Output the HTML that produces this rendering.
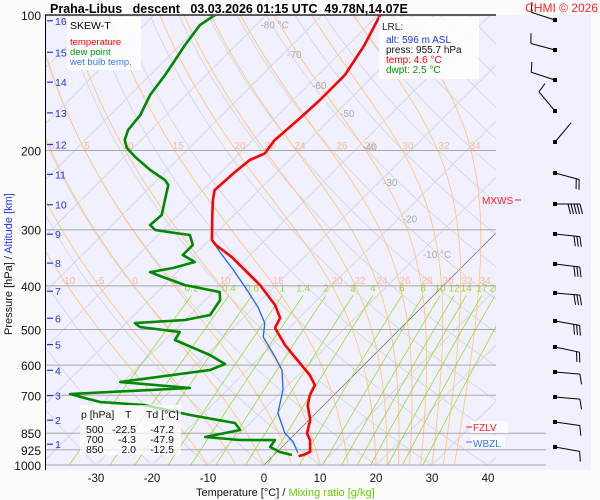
<!DOCTYPE html>
<html><head><meta charset="utf-8"><style>
body{margin:0;background:#fcfcfc;}
svg{display:block;font-family:"Liberation Sans",sans-serif;}
</style></head><body>
<svg id="c" width="600" height="500" viewBox="0 0 600 500">
<rect x="45" y="15" width="546" height="455" fill="#f0f0fe"/>
<defs><clipPath id="clip"><rect x="45" y="15" width="451" height="450"/></clipPath></defs>
<g id="grid" clip-path="url(#clip)"></g>
<g id="hl"></g>
<g id="series" clip-path="url(#clip)"></g>
<g id="barbs"></g>
<g id="axes"></g>
<text x="50" y="13" font-size="12.5" font-weight="bold" fill="#000" xml:space="preserve">Praha-Libus   descent   03.03.2026 01:15 UTC  49.78N,14.07E</text>
<text x="598" y="12" font-size="12" fill="#ff2020" text-anchor="end">CHMI © 2026</text>
<g>
<rect x="67" y="17" width="74" height="53" fill="#fff" opacity="0.85"/>
<text x="70" y="29" font-size="10.5" fill="#000">SKEW-T</text>
<text x="70" y="45" font-size="9.5" fill="#ff0000">temperature</text>
<text x="70" y="55" font-size="9.5" fill="#009900">dew point</text>
<text x="70" y="65" font-size="9.5" fill="#3377ff">wet bulb temp.</text>
</g>
<g>
<rect x="379" y="17" width="100" height="62" fill="#fff" opacity="0.85"/>
<text x="382" y="30" font-size="10" fill="#222">LRL:</text>
<text x="386" y="43" font-size="10" fill="#2233ee">alt: 596 m ASL</text>
<text x="386" y="53" font-size="10" fill="#111">press: 955.7 hPa</text>
<text x="386" y="63" font-size="10" fill="#ff0000">temp: 4.6 °C</text>
<text x="386" y="73" font-size="10" fill="#009900">dwpt: 2.5 °C</text>
</g>
<g font-size="10.5" fill="#111">
<rect x="80" y="405" width="101" height="50" fill="#fff" opacity="0.7"/>
<text x="81" y="418">p [hPa]</text><text x="125" y="418">T</text><text x="146" y="418">Td [°C]</text>
<text x="86" y="433">500</text><text x="136" y="433" text-anchor="end">-22.5</text><text x="174" y="433" text-anchor="end">-47.2</text>
<text x="86" y="443">700</text><text x="136" y="443" text-anchor="end">-4.3</text><text x="174" y="443" text-anchor="end">-47.9</text>
<text x="86" y="453">850</text><text x="136" y="453" text-anchor="end">2.0</text><text x="174" y="453" text-anchor="end">-12.5</text>
</g>
<g font-size="10">
<text x="482" y="204" fill="#ff2020">MXWS</text><line x1="515" y1="200" x2="521" y2="200" stroke="#ff2020"/>
<rect x="471" y="421" width="37" height="12" fill="#fff" opacity="0.8"/>
<line x1="466" y1="427" x2="472" y2="427" stroke="#ff2020"/><text x="473" y="431" fill="#ff2020">FZLV</text>
<rect x="471" y="436" width="34" height="12" fill="#fff" opacity="0.8"/>
<line x1="466" y1="442" x2="472" y2="442" stroke="#3377ff"/><text x="473" y="447" fill="#3377ff">WBZL</text>
</g>
<text x="196" y="496" font-size="11" fill="#111">Temperature [°C]  /  <tspan fill="#66cc00">Mixing ratio [g/kg]</tspan></text>
<text transform="translate(12,335) rotate(-90)" font-size="11" fill="#111">Pressure [hPa]  /  <tspan fill="#2233ee">Altitude [km]</tspan></text>
</svg>
<script>
// ---- data ----
const tempP=[100,117,136,154.5,169,190,203,210,223,245,258,278,316,324,345,398,441,471,496,541,631,664,699,736,794,850,880,935,950,955.7];
const tempT=[-59.6,-57,-55.2,-55.2,-55.5,-56.1,-55.5,-57,-57.5,-57.9,-56.4,-53.9,-49.5,-48,-42.9,-32.9,-26.6,-23.4,-22.5,-17.7,-7.9,-5.2,-4.3,-2.9,0.2,2.0,3.75,5.9,5.2,4.6];
const dewP=[100,105.2,116.6,125.9,136,150.6,166.8,180.1,189.6,197.4,206.8,221,232.6,238.6,257.8,278.3,292.9,300.4,305.1,308.2,324.4,341.5,353.9,365,372.6,380.2,398.1,412.7,430,464.2,476.3,483.7,493.6,506.4,527.6,569.5,596.4,615,654,674.5,695.5,710,724.4,736,774.3,806.6,836,866.7,880,880.5,912,935.6,950];
const dewT=[-89.1,-90,-89.1,-88.2,-87.3,-86.4,-84.6,-84.1,-82.9,-81.1,-78,-73,-68.6,-67.1,-65,-62.9,-63.2,-61.4,-57.3,-54.3,-52,-52,-48.6,-51.4,-54.8,-52.3,-46.3,-38.8,-37.3,-36.4,-40,-48.4,-46.8,-38.8,-38.2,-29.3,-25,-26.6,-40.5,-27,-47.3,-43.9,-40.5,-32,-22.1,-12.7,-10.5,-15.5,-8.75,-2.5,-2.1,0.5,3.2];
const wbP=[100,117,136,154.5,169,190,203,210,223,245,258,278,316,336.3,365,402,445.6,483.7,519.5,575.4,615,681.3,766.3,849,889,940];
const wbT=[-59.6,-57,-55.2,-55.2,-55.5,-56.1,-55.5,-57,-57.5,-57.9,-56.4,-53.9,-49.5,-45.9,-40.9,-35.2,-29.3,-25.2,-23,-17.3,-13.75,-10,-6.8,-2,1.1,3.9];
const pressureTicks=[100,200,300,400,500,600,700,850,925,1000];
const tempTicks=[-30,-20,-10,0,10,20,30,40];
const kmTicks=[1,2,3,4,5,6,7,8,9,10,11,12,13,14,15,16];
const kmPressure=[899,795,701,616,540,472,411,356,307,264,226,194,165,141,121,103];
const isoLabels=[-80,-70,-60,-50,-40,-30,-20,-10];
const isoLabelP=[105,122,143,165,196,235,283,340];
const thetaW=[-10,-5,0,5,10,15,20,22,24,26,28,30,32,34];
const mixRatios=[0.2,0.4,0.6,1,1.4,2,3,4,6,8,10,12,14,17,20,25];
const barbY=[20,50,80,111,142,173,204,234,264,293,321,347,372,397,422,447];
const barbDir=[288,285,288,320,40,105,90,96,97,95,100,102,95,95,98,100];
const barbN=[1,1,1,1,0,2,5,3,3,3,3,2,1,1,1,1];

// ---- scales ----
const Y=p=>15+450*Math.log10(p/100);
const X=(T,p)=>264+5.6*T+(465-Y(p));
const NS='http://www.w3.org/2000/svg';
function mk(tag,attrs,parent){const e=document.createElementNS(NS,tag);for(const k in attrs)e.setAttribute(k,attrs[k]);parent.appendChild(e);return e;}
const grid=document.getElementById('grid'),hl=document.getElementById('hl'),ser=document.getElementById('series'),ax=document.getElementById('axes'),bb=document.getElementById('barbs');
const pts=arr=>arr.map(a=>a[0].toFixed(1)+','+a[1].toFixed(1)).join(' ');

// isotherms
for(let T=-160;T<=50;T+=10){
  const l=mk('line',{x1:X(T,1050),y1:Y(1050),x2:X(T,90),y2:Y(90),stroke:T===0?'#777':'#d4d4dc','stroke-width':0.8},grid);
  
  
}
// dry adiabats
for(let th=-40;th<=220;th+=10){
  const a=[];for(let p=1050;p>=90;p-=10){a.push([X((th+273.15)*Math.pow(p/1000,0.286)-273.15,p),Y(p)]);}
  const l=mk('polyline',{points:pts(a),fill:'none',stroke:'#d4d4dc','stroke-width':0.8},grid);
  
  
}
// moist adiabats
function es(T){return 6.112*Math.exp(17.67*T/(T+243.5));}
for(const tw of thetaW){
  let T=tw+273.15,a=[];
  for(let p=1000;p>=100;p-=2){
    a.push([X(T-273.15,p),Y(p)]);
    const e=es(T-273.15),rs=0.622*e/(p-e);
    const dTdp=(287*T+2.5e6*rs)/(1004+2.5e6*2.5e6*rs*0.622/(287*T*T))/p;
    T-=dTdp*2;
  }
  const l=mk('polyline',{points:pts(a),fill:'none',stroke:'#ffc878','stroke-width':0.9},grid);
  
  
}
// mixing ratio lines
for(const w of mixRatios){
  const a=[];
  for(let p=1000;p>=420;p-=10){const e=w*p/(622+w),L=Math.log(e/6.112),Td=243.5*L/(17.67-L);a.push([X(Td,p),Y(p)]);}
  const l=mk('polyline',{points:pts(a),fill:'none',stroke:'#9ddc2a','stroke-width':0.8},grid);
  
  
  const t=mk('text',{x:a[a.length-1][0],y:Y(420)-4,'font-size':10,fill:'#99dd22','text-anchor':'middle'},grid);
  t.textContent=String(w);
  
  
}
// moist adiabat labels (two rows)
const mlRow1=[[52,'0'],[87,'5'],[128,'10'],[178,'15'],[240,'20'],[270,'22'],[300,'24'],[342,'26'],[370,'28'],[408,'30'],[444,'32'],[475,'34']];
const mlRow2=[[68,'-10'],[100,'-5'],[135,'0'],[175,'5'],[225,'10'],[278,'15'],[337,'20'],[360,'22'],[382,'24'],[405,'26'],[427,'28'],[448,'30'],[467,'32'],[485,'34']];
for(const [x,s] of mlRow1){const t=mk('text',{x:x,y:149,'font-size':10,fill:'#ffb898','text-anchor':'middle'},grid);t.textContent=s;}
for(const [x,s] of mlRow2){const t=mk('text',{x:x,y:284,'font-size':10,fill:'#ffb898','text-anchor':'middle'},grid);t.textContent=s;}
// isotherm labels
isoLabels.forEach((T,i)=>{const p=isoLabelP[i];const t=mk('text',{x:X(T,p)+4,y:Y(p)+4,'font-size':10,fill:'#aaa'},grid);t.textContent=T+((i===0||i===7)?' °C':'');});

// pressure gridlines + labels
for(const p of pressureTicks){
  const y=Y(p),x2=(p>=850)?546:496;
  const l=mk('line',{x1:45,y1:y,x2:p===100?496:x2,y2:y,stroke:p===100?'#000':'#a8a8a8','stroke-width':p===100?1.2:1},hl);
  
  
  const t=mk('text',{x:41,y:y+5,'font-size':12,fill:'#111','text-anchor':'end'},ax);
  t.textContent=String(p);
  
  
}
const yl=mk('line',{x1:45.5,y1:15,x2:45.5,y2:470,stroke:'#000','stroke-width':1},ax);


kmTicks.forEach((k,i)=>{const y=Y(kmPressure[i]);
  const l=mk('line',{x1:47,y1:y,x2:53,y2:y,stroke:'#2233ee','stroke-width':1.2},ax);
  
  
  const t=mk('text',{x:55,y:y+4,'font-size':10.5,fill:'#2233ee'},ax);t.textContent=String(k);
  
  });
for(const T of tempTicks){const t=mk('text',{x:X(T,1000),y:482,'font-size':11.5,fill:'#111','text-anchor':'middle'},ax);t.textContent=String(T);
  
  }

// series
function series(P,Tv,color,w,name){
  const a=P.map((p,i)=>[X(Tv[i],p),Y(p)]);
  const l=mk('polyline',{points:pts(a),fill:'none',stroke:color,'stroke-width':w,'stroke-linejoin':'round'},ser);
  
  
}
series(wbP,wbT,'#2266ee',1.3,'wet-bulb-line');
series(dewP,dewT,'#008800',2.6,'dew-point-line');
series(tempP,tempT,'#ff0000',2.6,'temperature-line');

// wind barbs
barbY.forEach((y,i)=>{
  const x=555,a=barbDir[i]*Math.PI/180,L=25;
  const vx=Math.sin(a),vy=-Math.cos(a);
  const ex=x+L*vx,ey=y+L*vy;
  const g=mk('g',{},bb);
  
  
  mk('line',{x1:x,y1:y,x2:ex,y2:ey,stroke:'#000','stroke-width':1},g);
  mk('rect',{x:x-2,y:y-2,width:4,height:4,fill:'#000'},g);
  const bxv=-vy+0.25*vx,byv=vx+0.25*vy;
  for(let k=0;k<barbN[i];k++){
    const bx=ex-(k*3)*vx,by=ey-(k*3)*vy;
    mk('line',{x1:bx,y1:by,x2:bx+10*bxv,y2:by+10*byv,stroke:'#000','stroke-width':1},g);
  }
});
</script>
</body></html>
